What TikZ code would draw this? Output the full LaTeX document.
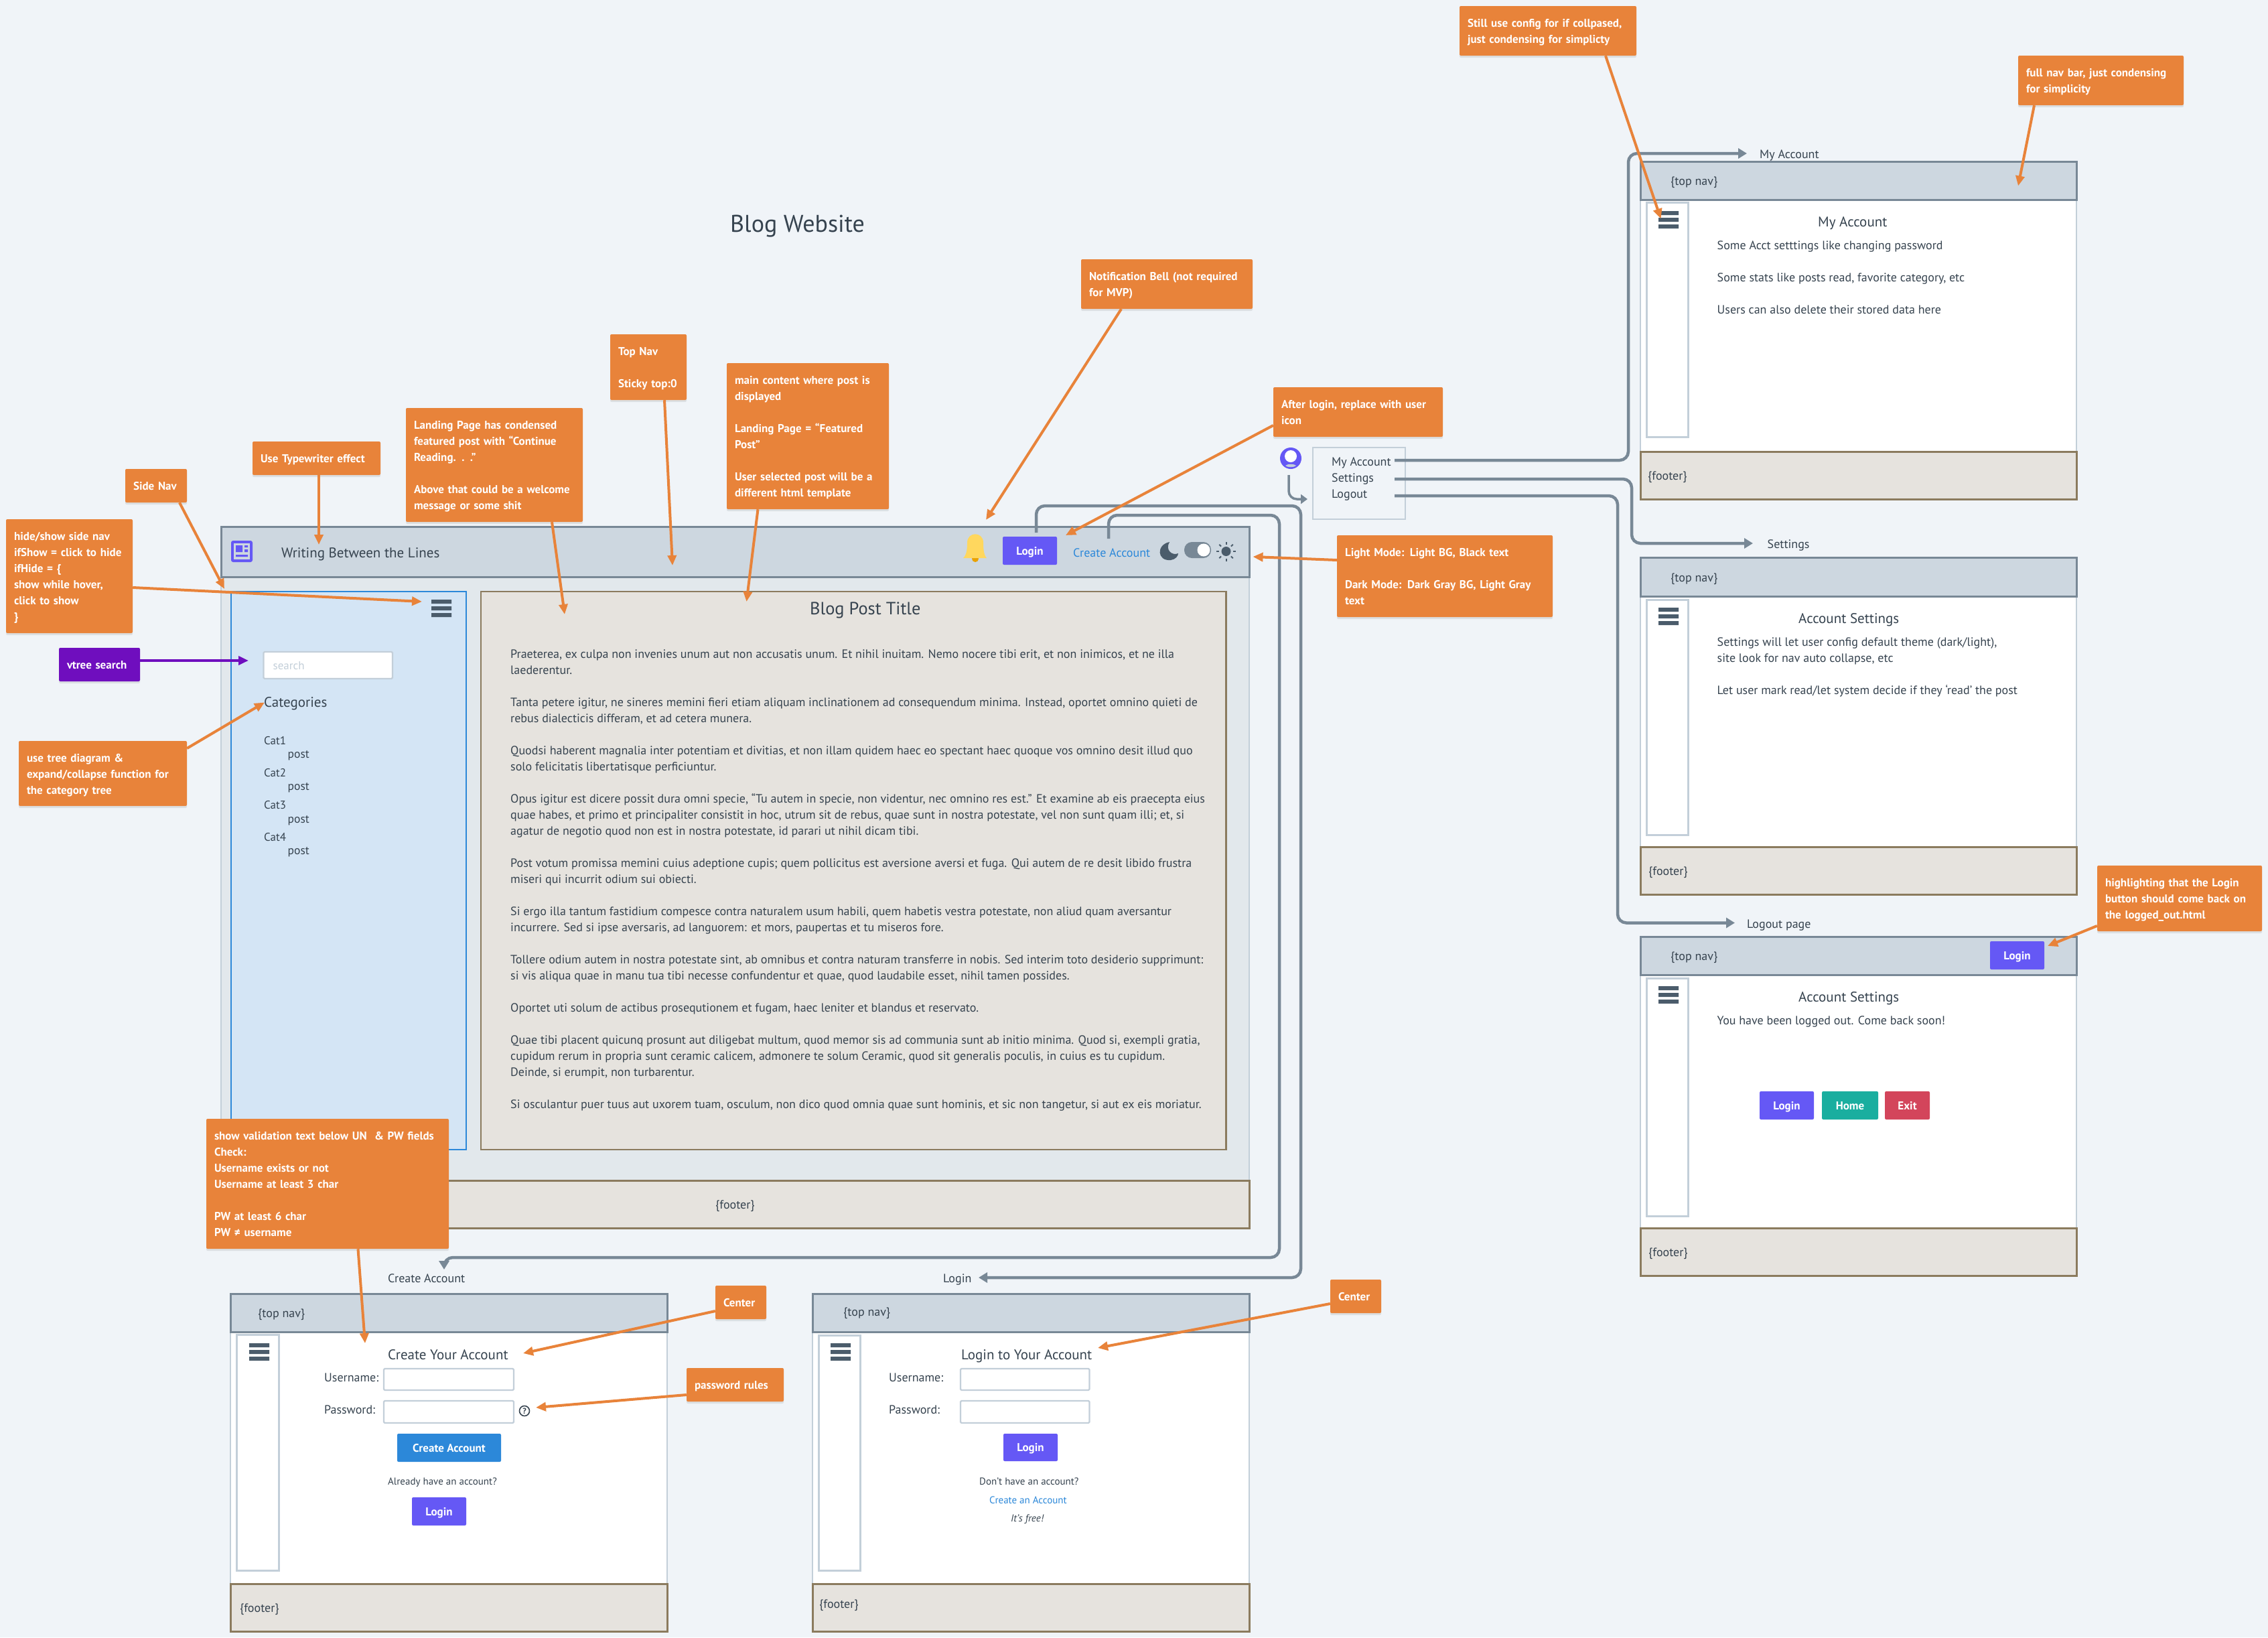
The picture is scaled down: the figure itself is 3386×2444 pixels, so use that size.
\documentclass[tikz,border=0pt]{standalone}
\usepackage{fontspec}
\setmainfont{PT Sans}
\usetikzlibrary{arrows.meta,shadows,calc}
\definecolor{pagebg}{HTML}{F0F4F8}
\definecolor{ink}{HTML}{36434F}
\definecolor{orng}{HTML}{E8833A}
\definecolor{purp}{HTML}{6F0EBE}
\definecolor{indi}{HTML}{6558F5}
\definecolor{teal}{HTML}{1AAE9F}
\definecolor{redb}{HTML}{D3455B}
\definecolor{blu}{HTML}{2C88D9}
\definecolor{slate}{HTML}{788896}
\definecolor{navf}{HTML}{CDD7E0}
\definecolor{footf}{HTML}{E6E3DE}
\definecolor{footd}{HTML}{8B7B5E}
\definecolor{pale}{HTML}{C3CFD9}
\definecolor{bodyf}{HTML}{E2E8EC}
\definecolor{sidef}{HTML}{D4E5F5}
\definecolor{hamb}{HTML}{4B5C6B}
\definecolor{bellc}{HTML}{FFD75E}
\definecolor{clap}{HTML}{E9A100}
\newcounter{tn}
\newcommand\fsz[1]{\fontsize{#1}{24}\selectfont}
% text: [opts]{x}{centre y}{text}
\newcommand\TT[4][]{\stepcounter{tn}\node[txt,#1] (t\arabic{tn}) at (#2,{#3+6}) {#4};}
% box by corners
\newcommand\RB[6][]{\node[#2,minimum width={#5-#3},minimum height={#6-#4},#1] at ({(#3+#5)/2},{(#4+#6)/2})}
\newcommand\ham[2]{\fill[hamb] (#1,#2) rectangle ++(30,6) (#1,{#2+10}) rectangle ++(30,6) (#1,{#2+20}) rectangle ++(30,6);}
\tikzset{
  x=1pt,y=-1pt,
  txt/.style={inner sep=0pt,anchor=base west,text=ink,font=\fsz{18}},
  art/.style={txt,font=\fsz{18}},
  small/.style={font=\fsz{18}},
  orbox/.style={fill=orng,rounded corners=2pt,text=white,font=\bfseries\fsz{17},inner xsep=12pt,inner ysep=0pt,align=left,
    execute at begin node={\rule{0pt}{17pt}},execute at end node={\rule[-4pt]{0pt}{4pt}},
    drop shadow={opacity=.18,shadow xshift=0pt,shadow yshift=-3pt}},
  pubox/.style={orbox,fill=purp},
  btn/.style={rounded corners=2pt,text=white,font=\bfseries\fsz{17},inner sep=0pt,text height=12pt,text depth=0pt},
  inp/.style={draw=pale,fill=white,line width=2.4pt,rounded corners=1.5pt,inner sep=0pt},
  navb/.style={draw=slate,fill=navf,line width=3pt,inner sep=0pt},
  footb/.style={draw=footd,fill=footf,line width=3pt,inner sep=0pt},
  pageb/.style={draw=pale,fill=white,line width=2.4pt,inner sep=0pt},
  sideb/.style={draw=pale,fill=white,line width=3pt,inner sep=0pt},
  oc/.style={draw=orng,line width=4pt,-{Triangle[length=15pt,width=13pt]}},
  pc/.style={draw=purp,line width=4pt,-{Triangle[length=15pt,width=13pt]}},
  gc/.style={draw=slate,line width=4.5pt,rounded corners=13pt,-{Triangle[length=13pt,width=15pt]}},
}
\newcommand\OBX[5]{\node[orbox,anchor=center,text width={#3-#1-24},minimum height={#4-#2}] (#5) at ({(#1+#3)/2},{(#2+#4)/2})}
\begin{document}
\begin{tikzpicture}
\useasboundingbox (0,0) rectangle (3386,2444);
\fill[pagebg] (0,0) rectangle (3386,2444);
\TT[font=\fsz{36}]{1090}{340}{Blog Website}

% ---------- main page
\RB{draw=pale,fill=bodyf,line width=2.4pt,inner sep=0pt}{330}{861}{1865}{1762} (mainbody) {};
\RB{navb}{330}{786}{1865}{861} (mainnav) {};
\RB{footb}{330}{1762}{1865}{1833} (mainfoot) {};
\TT[small]{1068}{1798}{\{footer\}}
% logo
\fill[indi,rounded corners=3pt] (345,807) rectangle (377,839);
\fill[navf] (349,811) rectangle (373,835);
\fill[indi] (352,814) rectangle (362,824) (365,814) rectangle (370,817) (365,820) rectangle (370,824) (352,828) rectangle (370,831);
\TT[font=\fsz{21}]{420}{826}{Writing Between the Lines}
% bell
\fill[clap] (1456,834) circle (5);
\fill[bellc] (1438,833) .. controls (1444,828) and (1444,815) .. (1444,810) .. controls (1444,793) and (1468,793) .. (1468,810) .. controls (1468,815) and (1468,828) .. (1473,833) -- cycle;
\RB{btn,fill=indi}{1497}{801}{1578}{843} (mlogin) {Login};
\TT[text=blu]{1602}{825}{Create Account}
% moon
\fill[hamb] (1746,809) .. controls (1726,813) and (1727,838) .. (1748,836) .. controls (1755,835) and (1759,830) .. (1759,826) .. controls (1750,830) and (1739,821) .. (1746,809) -- cycle;
% toggle
\fill[slate,rounded corners=11.5pt] (1768,809) rectangle (1808,833);
\fill[white] (1797,821) circle (9.5);
% sun
\fill[hamb] (1830.5,823) circle (7);
\foreach \a in {0,45,...,315}{\draw[hamb,line width=2pt] ($(1830.5,823)+(\a:10.5)$) -- ($(1830.5,823)+(\a:14.5)$);}

% side nav
\RB{draw=blu,fill=sidef,line width=2.4pt,inner sep=0pt}{345}{883}{696}{1716} (sidenav) {};
\ham{644}{895}
\RB{inp}{393.5}{973}{586}{1013} (searchbox) {};
\TT[text=pale,font=\fsz{17}]{407.5}{993}{search}
\TT[font=\fsz{21}]{394}{1049}{Categories}
\TT[font=\fsz{17}]{394}{1105}{Cat1}
\TT[font=\fsz{17.5}]{429.5}{1125}{post}
\TT[font=\fsz{17}]{394}{1153}{Cat2}
\TT[font=\fsz{17.5}]{429.5}{1173}{post}
\TT[font=\fsz{17}]{394}{1201}{Cat3}
\TT[font=\fsz{17.5}]{429.5}{1222}{post}
\TT[font=\fsz{17}]{394}{1249}{Cat4}
\TT[font=\fsz{17.5}]{429.5}{1269}{post}

% article
\RB{footb,line width=2.4pt}{718}{883}{1830.5}{1716} (article) {};
\TT[font=\fsz{26.4}]{1209}{911}{Blog Post Title}
\TT[art]{762}{976}{Praeterea, ex culpa non invenies unum aut non accusatis unum. Et nihil inuitam. Nemo nocere tibi erit, et non inimicos, et ne illa}
\TT[art]{762}{1000}{laederentur.}
\TT[art]{762}{1048}{Tanta petere igitur, ne sineres memini fieri etiam aliquam inclinationem ad consequendum minima. Instead, oportet omnino quieti de}
\TT[art]{762}{1072}{rebus dialecticis differam, et ad cetera munera.}
\TT[art]{762}{1120}{Quodsi haberent magnalia inter potentiam et divitias, et non illam quidem haec eo spectant haec quoque vos omnino desit illud quo}
\TT[art]{762}{1144}{solo felicitatis libertatisque perficiuntur.}
\TT[art]{762}{1192}{Opus igitur est dicere possit dura omni specie, “Tu autem in specie, non videntur, nec omnino res est.” Et examine ab eis praecepta eius}
\TT[art]{762}{1216}{quae habes, et primo et principaliter consistit in hoc, utrum sit de rebus, quae sunt in nostra potestate, vel non sunt quam illi; et, si}
\TT[art]{762}{1240}{agatur de negotio quod non est in nostra potestate, id parari ut nihil dicam tibi.}
\TT[art]{762}{1288}{Post votum promissa memini cuius adeptione cupis; quem pollicitus est aversione aversi et fuga. Qui autem de re desit libido frustra}
\TT[art]{762}{1312}{miseri qui incurrit odium sui obiecti.}
\TT[art]{762}{1360}{Si ergo illa tantum fastidium compesce contra naturalem usum habili, quem habetis vestra potestate, non aliud quam aversantur}
\TT[art]{762}{1384}{incurrere. Sed si ipse aversaris, ad languorem: et mors, paupertas et tu miseros fore.}
\TT[art]{762}{1432}{Tollere odium autem in nostra potestate sint, ab omnibus et contra naturam transferre in nobis. Sed interim toto desiderio supprimunt:}
\TT[art]{762}{1456}{si vis aliqua quae in manu tua tibi necesse confundentur et quae, quod laudabile esset, nihil tamen possides.}
\TT[art]{762}{1504}{Oportet uti solum de actibus prosequtionem et fugam, haec leniter et blandus et reservato.}
\TT[art]{762}{1552}{Quae tibi placent quicunq prosunt aut diligebat multum, quod memor sis ad communia sunt ab initio minima. Quod si, exempli gratia,}
\TT[art]{762}{1576}{cupidum rerum in propria sunt ceramic calicem, admonere te solum Ceramic, quod sit generalis poculis, in cuius es tu cupidum.}
\TT[art]{762}{1600}{Deinde, si erumpit, non turbarentur.}
\TT[art]{762}{1648}{Si osculantur puer tuus aut uxorem tuam, osculum, non dico quod omnia quae sunt hominis, et sic non tangetur, si aut ex eis moriatur.}

% ---------- Create account page
\RB{pageb}{344}{1988}{996}{2364} (cabody) {};
\RB{navb}{344}{1931}{996}{1988} (canav) {};
\RB{footb}{344}{2364}{996}{2435} (cafoot) {};
\RB{sideb}{353}{1992}{416}{2344} (caside) {};
\ham{372}{2005}
\TT[small]{385}{1960}{\{top nav\}}
\TT[small]{358}{2400}{\{footer\}}
\TT{579}{1908}{Create Account}
\TT[font=\fsz{21}]{579}{2023}{Create Your Account}
\TT{484}{2056}{Username:}
\TT{484}{2104}{Password:}
\RB{inp}{573}{2043}{767}{2075} (causer) {};
\RB{inp}{573}{2091}{767}{2124} (capass) {};
\draw[ink,line width=1.6pt] (783,2106) circle (7.5);
\node[inner sep=0pt,text=ink,font=\bfseries\fsz{12}] (qmark) at (783,2106) {?};
\RB{btn,fill=blu}{593}{2140}{748}{2182} (cabtn) {Create Account};
\TT[font=\fsz{15}]{579}{2210}{Already have an account?}
\RB{btn,fill=indi}{615}{2235}{696}{2277} (calogin) {Login};

% ---------- Login page
\RB{pageb}{1213}{1988}{1865}{2364} (lbody) {};
\RB{navb}{1213}{1931}{1865}{1988} (lnav) {};
\RB{footb}{1213}{2364}{1865}{2435} (lfoot) {};
\RB{sideb}{1222}{1993}{1284}{2344} (lside) {};
\ham{1240}{2005}
\TT[small]{1259}{1958}{\{top nav\}}
\TT[small]{1223}{2394}{\{footer\}}
\TT{1408}{1908}{Login}
\TT[font=\fsz{21}]{1435}{2023}{Login to Your Account}
\TT{1327}{2056}{Username:}
\TT{1327}{2104}{Password:}
\RB{inp}{1434}{2043}{1626.5}{2075} (luser) {};
\RB{inp}{1434}{2091}{1626.5}{2124} (lpass) {};
\RB{btn,fill=indi}{1498}{2140}{1579}{2181} (lbtn) {Login};
\TT[font=\fsz{15}]{1462}{2210}{Don’t have an account?}
\TT[font=\fsz{15},text=blu]{1477}{2238}{Create an Account}
\TT[font=\itshape\fsz{15}]{1509}{2265}{It’s free!}

% ---------- My Account page
\RB{pageb}{2449}{298}{3100}{674} (mabody) {};
\RB{navb}{2449}{241}{3100}{298} (manav) {};
\RB{footb}{2449}{674}{3100}{745} (mafoot) {};
\RB{sideb}{2458}{302.5}{2520.5}{652} (maside) {};
\ham{2476}{315}
\TT[small]{2494}{270}{\{top nav\}}
\TT[small]{2460}{710}{\{footer\}}
\TT{2627}{230}{My Account}
\TT[font=\fsz{21}]{2714}{332}{My Account}
\TT{2563.5}{366}{Some Acct setttings like changing password}
\TT{2563.5}{414}{Some stats like posts read, favorite category, etc}
\TT{2563.5}{462}{Users can also delete their stored data here}

% ---------- Settings page
\RB{pageb}{2449}{890}{3100}{1264} (sebody) {};
\RB{navb}{2449}{832}{3100}{890} (senav) {};
\RB{footb}{2449}{1264}{3100}{1335} (sefoot) {};
\RB{sideb}{2458}{895}{2520.5}{1246} (seside) {};
\ham{2476}{907}
\TT[small]{2494}{862}{\{top nav\}}
\TT[small]{2461}{1300}{\{footer\}}
\TT{2638.5}{812}{Settings}
\TT[font=\fsz{21}]{2685}{924}{Account Settings}
\TT{2563.5}{958}{Settings will let user config default theme (dark/light),}
\TT{2563.5}{982}{site look for nav auto collapse, etc}
\TT{2563.5}{1030}{Let user mark read/let system decide if they ‘read’ the post}

% ---------- Logout page
\RB{pageb}{2449}{1455}{3100}{1833} (lobody) {};
\RB{navb}{2449}{1398}{3100}{1455} (lonav) {};
\RB{footb}{2449}{1833}{3100}{1904} (lofoot) {};
\RB{sideb}{2458}{1460}{2520.5}{1815} (loside) {};
\ham{2476}{1472}
\TT[small]{2494}{1427}{\{top nav\}}
\TT[small]{2461}{1869}{\{footer\}}
\TT{2608}{1379}{Logout page}
\TT[font=\fsz{21}]{2685}{1489}{Account Settings}
\TT{2563.5}{1523}{You have been logged out. Come back soon!}
\RB{btn,fill=indi}{2971}{1405}{3052}{1447} (lonavbtn) {Login};
\RB{btn,fill=indi}{2627}{1629}{2708}{1671} (lob1) {Login};
\RB{btn,fill=teal}{2720}{1629}{2804}{1671} (lob2) {Home};
\RB{btn,fill=redb}{2814}{1629}{2881}{1671} (lob3) {Exit};

% ---------- dropdown
\fill[indi] (1927,684) circle (16);
\fill[white] (1927,681) circle (9);
\fill[pale] (1919,695) .. controls (1922,692) and (1932,692) .. (1935,695) .. controls (1932,698) and (1922,698) .. (1919,695) -- cycle;
\coordinate (usericon) at (1924,709);
\RB{draw=pale,line width=2.4pt,inner sep=0pt}{1960}{668}{2098}{775} (menu) {};
\TT{1988}{689}{My Account}
\TT{1988}{713}{Settings}
\TT{1988}{737}{Logout}
\coordinate (menuarrow) at (1952,745);
\draw[draw=slate,line width=3.5pt,rounded corners=12pt,-{Triangle[length=10pt,width=14pt]}] (usericon) -- (1924,745) -- (menuarrow);

% ---------- grey connectors
\coordinate (s1) at (2082,687); \coordinate (s2) at (2082,715); \coordinate (s3) at (2082,740);
\coordinate (e1) at (2608,229); \coordinate (e2) at (2617,811); \coordinate (e3) at (2590,1377.5);
\draw[gc] (s1) -- (2431,687) -- (2431,229) -- (e1);
\draw[gc] (s2) -- (2436,715) -- (2436,811) -- (e2);
\draw[gc] (s3) -- (2415,740) -- (2415,1377.5) -- (e3);
\coordinate (e4) at (1461,1907); \coordinate (e5) at (663,1895);
\coordinate (s4) at (1547,795); \coordinate (s5) at (1655,804);
\draw[gc] (s4) -- (1547,755) -- (1942,755) -- (1942,1907) -- (e4);
\draw[gc] (s5) -- (1655,769) -- (1910,769) -- (1910,1877) -- (663,1877) -- (e5);

% ---------- annotations
\coordinate (tip1) at (335,879);
\coordinate (tip2) at (476,813);
\coordinate (tip3) at (630,898);
\coordinate (tip4) at (371,986);
\coordinate (tip5) at (395,1048.5);
\coordinate (tip6) at (843,917);
\coordinate (tip7) at (1004,844);
\coordinate (tip8) at (1114.5,898);
\coordinate (tip9) at (1472,776);
\coordinate (tip10) at (1591,799);
\coordinate (tip11) at (1870.5,831);
\coordinate (tip12) at (2479.5,326.5);
\coordinate (tip13) at (3013,277.5);
\coordinate (tip14) at (3057,1412);
\coordinate (tip15) at (545,2005);
\coordinate (tip16) at (781,2020);
\coordinate (tip17) at (800,2101);
\coordinate (tip18) at (1639,2012);

\OBX{187}{700}{279}{750}{aSide} {Side Nav};
\OBX{377}{659}{568}{709}{aType} {Use Typewriter effect};
\OBX{9}{775}{198}{945}{aHide} {hide/show side nav\\ifShow = click to hide\\ifHide = \{\\show while hover,\\click to show\\\}};
\node[pubox,anchor=center,text width=97pt,minimum height=50pt] (aTree) at (148.5,992) {vtree search};
\OBX{28}{1106}{279}{1203}{aCat} {use tree diagram \&\\expand/collapse function for\\the category tree};
\OBX{606}{609}{870}{779}{aLand} {Landing Page has condensed\\featured post with “Continue\\Reading. . .”\\[24pt]Above that could be a welcome\\message or some shit};
\OBX{911}{499}{1025}{597}{aTop} {Top Nav\\[24pt]Sticky top:0};
\OBX{1085}{542}{1327}{760}{aMain} {main content where post is\\displayed\\[24pt]Landing Page = “Featured\\Post”\\[24pt]User selected post will be a\\different html template};
\OBX{1614}{387}{1870}{461}{aBell} {Notification Bell (not required\\for MVP)};
\OBX{1901}{578}{2154}{652}{aUser} {After login, replace with user\\icon};
\OBX{1996}{799}{2318}{921}{aMode} {Light Mode: Light BG, Black text\\[24pt]Dark Mode: Dark Gray BG, Light Gray\\text};
\OBX{2179}{9}{2443}{83}{aCfg} {Still use config for if collpased,\\just condensing for simplicty};
\OBX{3013}{83}{3260}{157}{aFull} {full nav bar, just condensing\\for simplicity};
\OBX{3131}{1292}{3377}{1390}{aLogin} {highlighting that the Login\\button should come back on\\the logged\_out.html};
\OBX{308}{1670}{670}{1864}{aVal} {show validation text below UN \ \& PW fields\\Check:\\Username exists or not\\Username at least 3 char\\[24pt]PW at least 6 char\\PW ≠ username};
\OBX{1068}{1919}{1144}{1969}{aC1} {Center};
\OBX{1025}{2042}{1170}{2092}{aPw} {password rules};
\OBX{1986}{1910}{2062}{1960}{aC2} {Center};

\draw[oc] ([xshift=35pt]aSide.south) -- (tip1);
\draw[oc] ([xshift=3.5pt]aType.south) -- (tip2);
\draw[oc] ([yshift=-17pt]aHide.east) -- (tip3);
\draw[pc] ([yshift=6pt]aTree.east) -- (tip4);
\draw[oc] ([yshift=37.5pt]aCat.east) -- (tip5);
\draw[oc] ([xshift=86pt]aLand.south) -- (tip6);
\draw[oc] ([xshift=24pt]aTop.south) -- (tip7);
\draw[oc] ([xshift=-74.5pt]aMain.south) -- (tip8);
\draw[oc] ([xshift=-68pt]aBell.south) -- (tip9);
\draw[oc] ([yshift=-20pt]aUser.west) -- (tip10);
\draw[oc] ([yshift=24pt]aMode.west) -- (tip11);
\draw[oc] ([xshift=86pt]aCfg.south) -- (tip12);
\draw[oc] ([xshift=-99.5pt]aFull.south) -- (tip13);
\draw[oc] ([yshift=-41pt]aLogin.west) -- (tip14);
\draw[oc] ([xshift=45.5pt]aVal.south) -- (tip15);
\draw[oc] ([yshift=-13pt]aC1.west) -- (tip16);
\draw[oc] ([yshift=-15pt]aPw.west) -- (tip17);
\draw[oc] ([yshift=-11pt]aC2.west) -- (tip18);
\end{tikzpicture}
\end{document}
